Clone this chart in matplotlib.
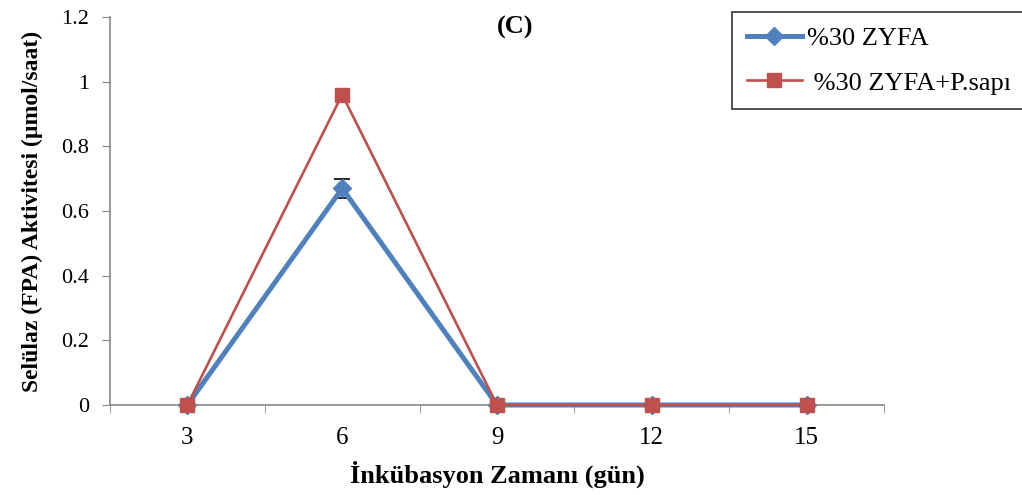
import numpy as np
import matplotlib.pyplot as plt

# İnkübasyon günleri ve selülaz (FPA) aktiviteleri
gunler = ['3', '6', '9', '12', '15']
zyfa = [0.0, 0.67, 0.0, 0.0, 0.0]
zyfa_hata = [0.0, 0.03, 0.0, 0.0, 0.0]
zyfa_psapi = [0.0, 0.96, 0.0, 0.0, 0.0]

plt.rcParams['font.family'] = ['Liberation Serif', 'DejaVu Serif']

fig = plt.figure(figsize=(10.22, 4.95), dpi=100)
ax = fig.add_axes([0.1076, 0.1818, 0.7574, 0.7839])

x = np.arange(1, len(gunler) + 1)
eb = ax.errorbar(x, zyfa, yerr=zyfa_hata, color='#4F81BD', lw=3.6, marker='D',
                 ms=9, ecolor='black', elinewidth=1.2, capsize=6, capthick=1.2,
                 zorder=3, clip_on=False)
eb.lines[0].set_clip_on(False)
kirmizi, = ax.plot(x, zyfa_psapi, color='#C0504D', lw=1.9, marker='s', ms=9.5,
                   zorder=4, clip_on=False)

ax.set_xlim(0.5, len(gunler) + 0.5)
ax.set_ylim(0, 1.2)
ax.set_yticks(np.arange(0, 1.21, 0.2))
ax.set_yticklabels(['0', '0.2', '0.4', '0.6', '0.8', '1', '1.2'])
ax.set_xticks(x)
ax.set_xticklabels(gunler)
ax.set_xticks(np.arange(0.5, len(gunler) + 1, 1), minor=True)
ax.tick_params(axis='x', which='major', length=0, pad=16, labelsize=18)
ax.tick_params(axis='x', which='minor', length=6, color='#888888')
ax.tick_params(axis='y', length=6, color='#888888', labelsize=16, pad=9)

for side in ['top', 'right']:
    ax.spines[side].set_visible(False)
for side in ['left', 'bottom']:
    ax.spines[side].set_color('#888888')
    ax.spines[side].set_linewidth(1.2)
ax.spines['bottom'].set_zorder(2)

ax.set_xlabel('İnkübasyon Zamanı (gün)', fontsize=19, fontweight='bold', labelpad=8)
ax.set_ylabel('Selülaz (FPA) Aktivitesi (µmol/saat)', fontsize=17, fontweight='bold', labelpad=13)
ax.text(0.523, 0.972, '(C)', transform=ax.transAxes, ha='center', va='center',
        fontsize=19, fontweight='bold')

leg = fig.legend([eb.lines[0], kirmizi], ['%30 ZYFA', ' %30 ZYFA+P.sapı'],
                 loc='upper left', bbox_to_anchor=(732 / 1022, 1 - 12 / 495),
                 borderaxespad=0, fontsize=19, frameon=True, fancybox=False,
                 edgecolor='black', handlelength=2.1, handletextpad=0.2,
                 borderpad=0.55, labelspacing=0.8)
leg.get_frame().set_linewidth(1.2)

plt.savefig('out.png', dpi=100)
